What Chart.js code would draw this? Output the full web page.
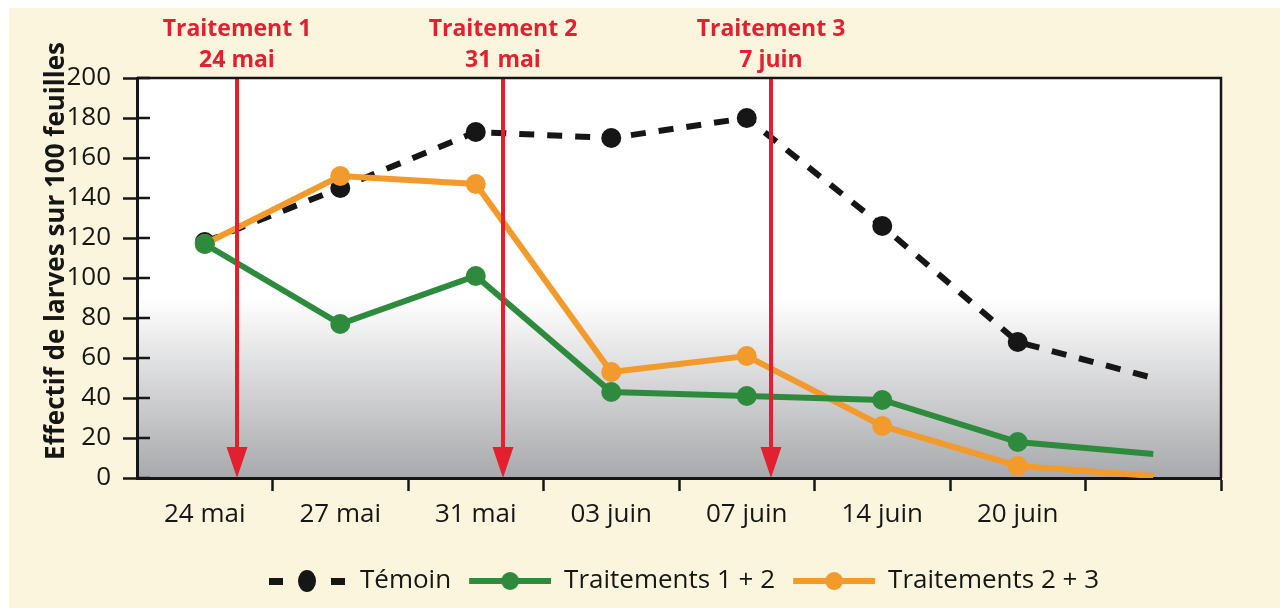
<!DOCTYPE html>
<html>
<head>
<meta charset="utf-8">
<script src="https://cdn.jsdelivr.net/npm/chart.js@4/dist/chart.umd.min.js"></script>
<style>
  html, body { margin: 0; padding: 0; background: #ffffff; }
  canvas { display: block; }
</style>
</head>
<body>
<canvas id="chart" width="1280" height="608"></canvas>
<script>
// Sampling dates (the last slot is an unlabelled reading)
const categories = ['24 mai', '27 mai', '31 mai', '03 juin', '07 juin', '14 juin', '20 juin', ''];

// Larvae per 100 leaves
const temoin        = [118, 145, 173, 170, 180, 126, 68, 50];
const traitements12 = [117, 77, 101, 43, 41, 39, 18, 12];
const traitements23 = [117, 151, 147, 53, 61, 26, 6, 1];

const seriesNames = ['Témoin', 'Traitements 1 + 2', 'Traitements 2 + 3'];

// Y axis ticks
const yTickValues = [0, 20, 40, 60, 80, 100, 120, 140, 160, 180, 200];
const yAxisTitle = 'Effectif de larves sur 100 feuilles';

// Treatment dates, placed along the category axis (fractional index)
const treatmentNames = ['Traitement 1', 'Traitement 2', 'Traitement 3'];
const treatmentDates = ['24 mai', '31 mai', '7 juin'];
const treatmentAt    = [0.24, 2.2, 4.18];

const INK = '#161616';
const GREEN = '#2e8b3e';
const ORANGE = '#f29b2c';
const RED = '#e3202f';
const CREAM = '#fbf5dd';
const FONT = "'Open Sans', 'DejaVu Sans', sans-serif";

// Legend samples: a short line with a dot in the middle
function legendSample(color, dashed) {
  const c = document.createElement('canvas');
  c.width = 88; c.height = 24;
  const g = c.getContext('2d');
  g.fillStyle = color;
  if (dashed) {
    g.fillRect(10, 9, 14, 7);
    g.fillRect(72, 9, 14, 7);
    g.beginPath();
    g.ellipse(48, 12, 9, 11, 0, 0, Math.PI * 2);
    g.fill();
  } else {
    g.fillRect(6, 9, 82, 6);
    g.beginPath();
    g.arc(47, 12, 9, 0, Math.PI * 2);
    g.fill();
  }
  return c;
}
const samples = [legendSample(INK, true), legendSample(GREEN, false), legendSample(ORANGE, false)];

const lastIndex = categories.length - 1;
const markerRadius = r => ctx => (ctx.dataIndex === lastIndex ? 0 : r);

const backdrop = {
  id: 'backdrop',
  beforeDraw(chart) {
    const { ctx, chartArea: a } = chart;
    ctx.save();
    ctx.fillStyle = '#ffffff';
    ctx.fillRect(0, 0, chart.width, chart.height);
    ctx.fillStyle = CREAM;
    ctx.fillRect(9, 8, chart.width - 9, chart.height - 8);
    const grad = ctx.createLinearGradient(0, a.top, 0, a.bottom);
    grad.addColorStop(0, '#ffffff');
    grad.addColorStop(0.55, '#ffffff');
    grad.addColorStop(1, '#a8a9ac');
    ctx.fillStyle = grad;
    ctx.fillRect(a.left, a.top, a.right - a.left, a.bottom - a.top);
    ctx.restore();
  }
};

const treatments = {
  id: 'treatments',
  afterDatasetsDraw(chart) {
    const { ctx, chartArea: a } = chart;
    const xs = chart.scales.x, ys = chart.scales.y;
    const tipY = ys.getPixelForValue(0);
    ctx.save();
    treatmentAt.forEach((pos, i) => {
      const x = Math.round(xs.getPixelForValue(pos));
      ctx.fillStyle = RED;
      ctx.fillRect(x - 2, a.top, 4, tipY - 28 - a.top);
      ctx.beginPath();
      ctx.moveTo(x - 10.5, tipY - 31);
      ctx.lineTo(x + 10.5, tipY - 31);
      ctx.lineTo(x, tipY);
      ctx.closePath();
      ctx.fill();
      ctx.font = `bold 23px ${FONT}`;
      ctx.textAlign = 'center';
      ctx.textBaseline = 'alphabetic';
      ctx.fillText(treatmentNames[i], x, 36);
      ctx.fillText(treatmentDates[i], x, 67);
    });
    ctx.restore();
  },
  afterDraw(chart) {
    const { ctx, chartArea: a } = chart;
    const ys = chart.scales.y;
    ctx.save();
    ctx.strokeStyle = INK;
    // frame: top and right edges
    ctx.lineWidth = 2.5;
    ctx.beginPath();
    ctx.moveTo(a.left, a.top);
    ctx.lineTo(a.right, a.top);
    ctx.lineTo(a.right, a.bottom);
    ctx.stroke();
    // y ticks cross the axis into the plot
    ys.ticks.forEach(t => {
      const y = ys.getPixelForValue(t.value);
      ctx.beginPath();
      ctx.moveTo(a.left, y);
      ctx.lineTo(a.left + 13, y);
      ctx.stroke();
    });
    // y axis title
    ctx.fillStyle = INK;
    ctx.font = `bold 26px ${FONT}`;
    ctx.textAlign = 'center';
    ctx.textBaseline = 'alphabetic';
    ctx.translate(64, 251);
    ctx.rotate(-Math.PI / 2);
    ctx.fillText(yAxisTitle, 0, 0);
    ctx.restore();
  }
};

new Chart(document.getElementById('chart'), {
  type: 'line',
  data: {
    labels: categories,
    datasets: [
      {
        label: seriesNames[0], data: temoin, order: 3,
        borderColor: INK, borderWidth: 6, borderDash: [15, 13],
        pointRadius: markerRadius(10), pointBackgroundColor: INK, pointBorderWidth: 0,
        tension: 0
      },
      {
        label: seriesNames[1], data: traitements12, order: 1,
        borderColor: GREEN, borderWidth: 6,
        pointRadius: markerRadius(10), pointBackgroundColor: GREEN, pointBorderWidth: 0,
        tension: 0
      },
      {
        label: seriesNames[2], data: traitements23, order: 2,
        borderColor: ORANGE, borderWidth: 6,
        pointRadius: markerRadius(10), pointBackgroundColor: ORANGE, pointBorderWidth: 0,
        tension: 0
      }
    ]
  },
  options: {
    responsive: false,
    animation: false,
    devicePixelRatio: 1,
    layout: { padding: { top: 78, right: 59, bottom: 4, left: 0 } },
    plugins: {
      tooltip: { enabled: false },
      legend: {
        position: 'bottom',
        fullSize: false,
        labels: {
          usePointStyle: true,
          pointStyleWidth: 88,
          boxHeight: 24,
          padding: 12,
          color: INK,
          font: { family: FONT, size: 26 },
          sort: (a, b) => a.datasetIndex - b.datasetIndex,
          generateLabels(chart) {
            const items = Chart.defaults.plugins.legend.labels.generateLabels(chart);
            items.forEach(it => { it.pointStyle = samples[it.datasetIndex]; it.lineWidth = 0; });
            return items;
          }
        }
      }
    },
    scales: {
      x: {
        offset: true,
        afterFit(s) { s.height = 78; },
        grid: {
          offset: true,
          drawOnChartArea: false,
          tickLength: 13,
          tickWidth: 2.5,
          tickColor: ctx => (ctx.index === 0 ? 'rgba(0,0,0,0)' : INK)
        },
        border: { color: INK, width: 3 },
        ticks: {
          color: INK, padding: 8, maxRotation: 0, autoSkip: false,
          font: { family: FONT, size: 26 }
        }
      },
      y: {
        min: 0, max: 200,
        afterFit(s) { s.width = 137; },
        afterBuildTicks(s) { s.ticks = yTickValues.map(v => ({ value: v })); },
        grid: { drawOnChartArea: false, tickLength: 14, tickWidth: 2.5, color: INK },
        border: { color: INK, width: 3 },
        ticks: {
          color: INK, padding: 12,
          font: { family: FONT, size: 26 }
        }
      }
    }
  },
  plugins: [backdrop, treatments]
});
</script>
</body>
</html>
